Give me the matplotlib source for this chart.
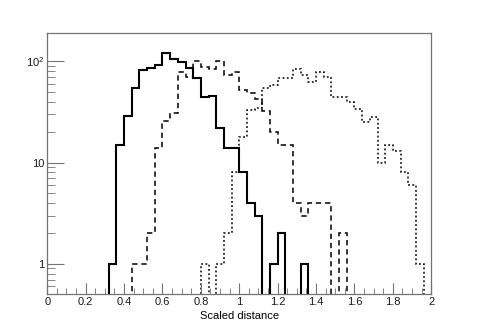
import numpy as np
import matplotlib
matplotlib.use("Agg")
import matplotlib.pyplot as plt

# 50 bins de 0 a 2 (ancho 0.04)
edges = np.linspace(0.0, 2.0, 51)

# cuentas (bin 0 = [0, 0.04))
solid = [0] * 8 + [1, 15, 29, 55, 82, 86, 93, 122, 106, 98, 87, 68, 45, 46, 22,
                   14, 14, 8, 4, 3, 0, 1, 2, 0, 0, 1] + [0] * 16
dashed = [0] * 11 + [1, 1, 2, 14, 26, 31, 79, 70, 100, 89, 85, 100, 73, 79, 52,
                     49, 43, 32, 20, 15, 15, 4, 3, 4, 4, 4, 0, 2] + [0] * 11
dotted = [0] * 20 + [1, 0, 1, 2, 8, 18, 33, 35, 54, 58, 69, 69, 85, 74, 63, 79,
                     70, 45, 44, 40, 34, 25, 28, 10, 15, 13, 8, 6, 1] + [0]

xlabel = "Scaled distance"
ytick_vals = [1, 10, 100]
ytick_labels = ["1", "10", "$10^{2}$"]

plt.rcParams["font.family"] = ["Liberation Sans", "DejaVu Sans"]
plt.rcParams["mathtext.default"] = "regular"

fig = plt.figure(figsize=(4.8, 3.27), dpi=100)
ax = fig.add_axes([0.0985, 0.1, 0.8, 0.8006])


def nz(h):
    h = np.asarray(h, dtype=float)
    return np.where(h > 0, h, 1e-3)


ax.stairs(nz(solid), edges, color="black", linewidth=1.5, baseline=None)
ax.stairs(nz(dashed), edges, color="black", linewidth=1.1, baseline=None,
          linestyle=(0, (3.5, 2.5)))
ax.stairs(nz(dotted), edges, color="black", linewidth=1.1, baseline=None,
          linestyle=(0, (1.2, 1.6)))

ax.set_yscale("log")
ax.set_xlim(0, 2)
ax.set_ylim(0.5, 193)

ax.set_xticks(np.arange(0, 2.01, 0.2))
ax.set_xticklabels(["0", "0.2", "0.4", "0.6", "0.8", "1", "1.2", "1.4", "1.6", "1.8", "2"])
ax.set_xticks(np.arange(0, 2.01, 0.05), minor=True)
ax.set_yticks(ytick_vals)
ax.set_yticklabels(ytick_labels)

ax.tick_params(which="both", direction="in", top=False, right=False,
               labelsize=8, colors="0.1", pad=2)
ax.tick_params(axis="x", which="major", length=8, color="0.45")
ax.tick_params(axis="x", which="minor", length=4, color="0.45")
ax.tick_params(axis="y", which="major", length=12, color="0.45")
ax.tick_params(axis="y", which="minor", length=6, color="0.45")

for s in ax.spines.values():
    s.set_color("0.45")
    s.set_linewidth(0.9)

ax.set_xlabel(xlabel, fontsize=8, labelpad=2.5)

fig.savefig("out.png", dpi=100)
